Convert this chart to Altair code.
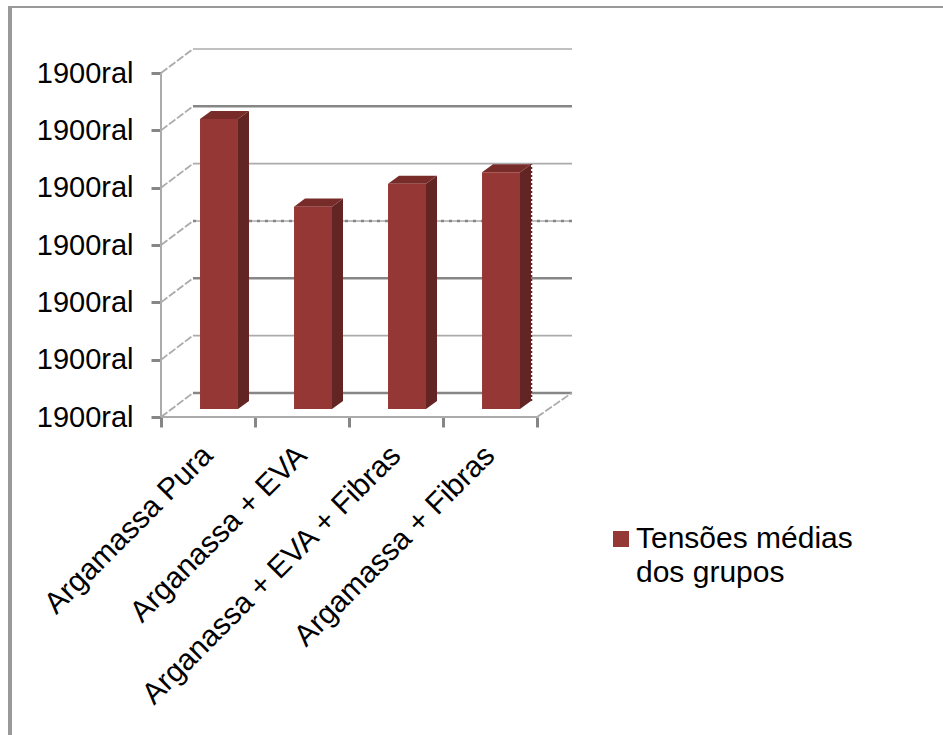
import json
import altair as alt
import pandas as pd

# Series values and labels
CATEGORIES = ["Argamassa Pura", "Arganassa + EVA", "Arganassa + EVA + Fibras", "Argamassa + Fibras"]
VALUES = [5.06, 3.53, 3.93, 4.13]
SERIES = "Tensões médias dos grupos"
SERIES_LINES = ["Tensões médias", "dos grupos"]
Y_TICKS = [0, 1, 2, 3, 4, 5, 6]
Y_TICK_LABELS = ["1900ral"] * 7
X_TICKS = [0, 1, 2, 3, 4]

# Wall gridline levels, grouped by how heavily each one is drawn
GRID_THIN = [1, 4, 6.0]
GRID_HEAVY = [0, 2, 5]
GRID_DOTTED = [3]

# Pseudo-3D projection, in axis units
DEPTH_X = 0.34
DEPTH_Y = 0.42
X_MAX = 4.372
Y_MAX = 6.42
BAR_LEFT = 0.415
BAR_WIDTH = 0.404
BAR_DX = 0.117
BAR_DY = 0.14

RED_FRONT = "#953735"
RED_SIDE = "#632523"
RED_TOP = "#772C2A"
GRID = "#ABABAB"
GRID_DARK = "#868686"
FONT = "Liberation Sans"

xs = alt.Scale(domain=[0, X_MAX], nice=False, zero=False)
ys = alt.Scale(domain=[0, Y_MAX], nice=False, zero=False)
x_axis = alt.Axis(values=X_TICKS, labels=False, domain=False, grid=False,
                  tickSize=10, tickWidth=3, tickColor=GRID_DARK)
y_axis = alt.Axis(values=Y_TICKS, domain=False, grid=False, tickSize=10, tickWidth=3,
                  tickColor=GRID_DARK, labelFont=FONT, labelFontSize=29, labelColor="#000000",
                  labelPadding=18,
                  labelExpr=json.dumps(Y_TICK_LABELS) + "[datum.value]")
X = alt.X("x:Q", scale=xs, title=None, axis=x_axis)
Y = alt.Y("y:Q", scale=ys, title=None, axis=y_axis)


def wall(levels):
    return pd.DataFrame({"x": [DEPTH_X] * len(levels), "x2": [X_MAX] * len(levels),
                         "y": [v + DEPTH_Y for v in levels]})


def wall_layer(levels, color, width, dash=None):
    kw = {"strokeDash": dash} if dash else {}
    return alt.Chart(wall(levels)).mark_rule(color=color, strokeWidth=width, **kw).encode(
        x=X, x2="x2:Q", y=Y)


# Diagonals on the side wall plus the floor's right edge
diag = pd.DataFrame(
    [{"x": 0, "x2": DEPTH_X, "y": v, "y2": v + DEPTH_Y} for v in Y_TICKS]
    + [{"x": 4, "x2": 4 + DEPTH_X + 0.03, "y": 0, "y2": DEPTH_Y}]
)
diag_layer = alt.Chart(diag).mark_rule(color=GRID, strokeWidth=1.8, strokeDash=[8, 2]).encode(
    x=X, x2="x2:Q", y=Y, y2="y2:Q")

left_axis = alt.Chart(pd.DataFrame({"x": [0], "y": [0], "y2": [6]})).mark_rule(
    color=GRID, strokeWidth=2).encode(x=X, y=Y, y2="y2:Q")
base_axis = alt.Chart(pd.DataFrame({"x": [0], "x2": [4], "y": [0]})).mark_rule(
    color=GRID, strokeWidth=2).encode(x=X, x2="x2:Q", y=Y)

# Bar faces
front_rows, side_rows, top_rows = [], [], []
for i, (cat, v) in enumerate(zip(CATEGORIES, VALUES)):
    x0 = i + BAR_LEFT
    x1 = x0 + BAR_WIDTH
    top = v + BAR_DY
    front_rows.append({"cat": cat, "x": x0, "x2": x1, "y": BAR_DY, "y2": top, "series": SERIES})
    side_rows += [
        {"cat": cat, "x": x1, "y": BAR_DY, "y2": top},
        {"cat": cat, "x": x1 + BAR_DX, "y": BAR_DY + BAR_DY, "y2": top + BAR_DY},
    ]
    top_rows += [
        {"cat": cat, "x": x0, "y": top, "y2": top},
        {"cat": cat, "x": x0 + BAR_DX, "y": top, "y2": top + BAR_DY},
        {"cat": cat, "x": x1, "y": top, "y2": top + BAR_DY},
        {"cat": cat, "x": x1 + BAR_DX, "y": top + BAR_DY, "y2": top + BAR_DY},
    ]

front = alt.Chart(pd.DataFrame(front_rows)).mark_rect().encode(
    x=X, x2="x2:Q", y=Y, y2="y2:Q",
    color=alt.Color("series:N", scale=alt.Scale(domain=[SERIES], range=[RED_FRONT]),
                    legend=alt.Legend(
                        title=None, orient="none", legendX=445, legendY=475,
                        symbolType="square", symbolSize=256, symbolStrokeWidth=0,
                        labelFont=FONT, labelFontSize=30, labelColor="#000000",
                        labelLimit=400, labelBaseline="middle", labelOffset=0,
                        labelExpr=json.dumps(SERIES_LINES[0]))),
)
side = alt.Chart(pd.DataFrame(side_rows)).mark_area(color=RED_SIDE, opacity=1).encode(
    x=X, y=Y, y2="y2:Q", detail="cat:N")
top_face = alt.Chart(pd.DataFrame(top_rows)).mark_area(color=RED_TOP, opacity=1).encode(
    x=X, y=Y, y2="y2:Q", detail="cat:N")

# Dotted trim on the last bar's back edge
last_edge = alt.Chart(pd.DataFrame([{
    "x": 3 + BAR_LEFT + BAR_WIDTH + BAR_DX, "y": 2 * BAR_DY, "y2": VALUES[3] + 2 * BAR_DY,
}])).mark_rule(color=RED_SIDE, strokeWidth=2.5, strokeDash=[2, 2]).encode(x=X, y=Y, y2="y2:Q")

# Slanted category labels
label_df = pd.DataFrame({"x": [i + 0.5 for i in range(4)], "y": [0] * 4, "cat": CATEGORIES})
cat_labels = alt.Chart(label_df).mark_text(
    angle=315, align="right", baseline="middle", font=FONT, fontSize=30, color="#000000",
    dy=24, dx=-24,
).encode(x=X, y=Y, text="cat:N")

# Second line of the legend entry
legend_line2 = alt.Chart(pd.DataFrame({"t": [SERIES_LINES[1]]})).mark_text(
    align="left", baseline="alphabetic", font=FONT, fontSize=30, color="#000000",
).encode(x=alt.value(475), y=alt.value(533), text="t:N")

# Outer frame, top and left edges only
frame_top = alt.Chart(pd.DataFrame({"k": [0]})).mark_rule(color="#999999", strokeWidth=2).encode(
    x=alt.value(-153), x2=alt.value(782), y=alt.value(-42))
frame_left = alt.Chart(pd.DataFrame({"k": [0]})).mark_rule(color="#999999", strokeWidth=4).encode(
    x=alt.value(-151), y=alt.value(-43), y2=alt.value(686))

chart = alt.layer(
    wall_layer(GRID_THIN, GRID, 1.6),
    wall_layer(GRID_HEAVY, GRID_DARK, 2.4),
    wall_layer(GRID_DOTTED, GRID, 1.4),
    wall_layer(GRID_DOTTED, GRID_DARK, 2.4, [3, 5]),
    diag_layer,
    left_axis,
    base_axis,
    side,
    top_face,
    front,
    last_edge,
    cat_labels,
    legend_line2,
    frame_top,
    frame_left,
).properties(
    width=411,
    height=368,
    autosize=alt.AutoSizeParams(type="none"),
    padding={"left": 161, "top": 49, "right": 371, "bottom": 318},
    background="#FFFFFF",
).configure_view(stroke=None)

chart.save("out.html", embed_options={"renderer": "svg", "actions": False})
